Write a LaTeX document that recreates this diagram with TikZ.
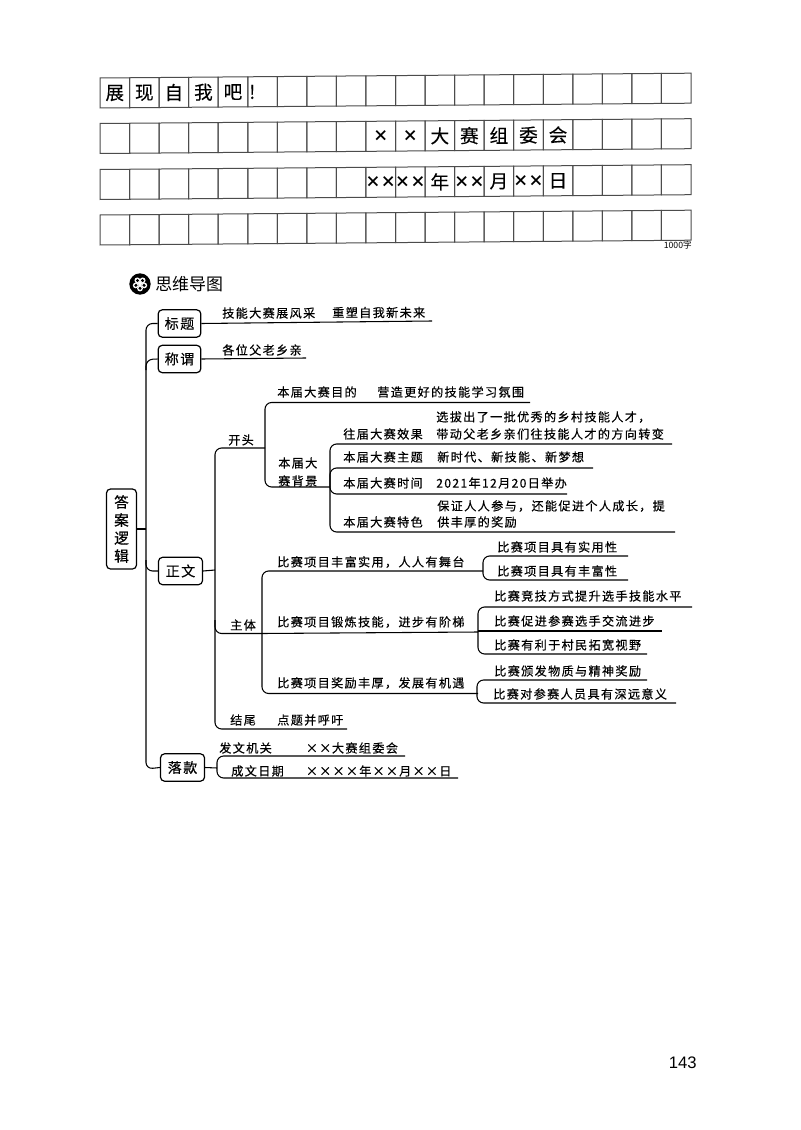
\documentclass[tikz,border=0pt]{standalone}
\usepackage{fontspec}
\setmainfont{Liberation Sans}
\newfontfamily\cjk[LetterSpace=11,FakeBold=0.35]{Noto Sans CJK SC}
\newfontfamily\cjkp[FakeBold=0.25]{Noto Sans CJK SC}
\newfontfamily\cjkh{Noto Sans CJK SC}
\newcommand\mul{\makebox[10pt]{×}}
\usetikzlibrary{shapes.geometric}
\tikzset{
  cell/.style={draw=black!70,line width=0.75pt},
  celltext/.style={inner sep=0pt,font=\cjkp\fontsize{14}{14}\selectfont},
  lab/.style={anchor=west,inner sep=0pt,font=\cjk\fontsize{9.1}{9.1}\selectfont},
  boxn/.style={draw,rounded corners=3pt,line width=0.9pt,inner sep=0pt,align=center,font=\cjk\fontsize{10.5}{10.5}\selectfont},
  link/.style={line width=0.8pt,rounded corners=5pt},
  tie/.style={line width=0.8pt},
}
\begin{document}
\begin{tikzpicture}[x=0.75pt,y=-0.75pt]
\useasboundingbox[fill=white] (0,0) rectangle (800,1130);
% writing grid
\foreach \t in {78,123.5,169.5,215}{
  \foreach \i in {0,...,19}{
    \pgfmathsetmacro{\xa}{100+29.55*\i}
    \pgfmathsetmacro{\xb}{\xa+29.55}
    \pgfmathsetmacro{\ya}{\t-0.24*\i}
    \pgfmathsetmacro{\yb}{\ya-0.24}
    \draw[cell] (\xa,\ya) -- (\xb,\yb) -- (\xb,\yb+30) -- (\xa,\ya+30) -- cycle;
  }
}
\foreach \n/\t/\i/\s in {
  a/78/0/展,b/78/1/现,c/78/2/自,d/78/3/我,e/78/4/吧,
  h/123.5/11/大,j/123.5/12/赛,k/123.5/13/组,l/123.5/14/委,m/123.5/15/会,
  o/169.5/11/年,p/169.5/13/月,q/169.5/15/日}{
  \node[celltext] (cell\n) at ({100+29.55*(\i+0.5)},{\t-0.24*\i+15}) {\s};
}
\node[celltext,anchor=west] (cellbang) at (249,92) {!};
\foreach \n/\i in {f/9,g/10}{
  \node[celltext,font=\cjkh\bfseries\fontsize{11.5}{11.5}\selectfont] (cell\n) at ({100+29.55*(\i+0.5)},{123.5-0.24*\i+15}) {×};
}
\foreach \n/\i in {r/9,s/10,u/12,v/14}{
  \node[celltext,font=\cjkh\bfseries\fontsize{11.5}{11.5}\selectfont] (cell\n) at ({100+29.55*(\i+0.5)},{169.5-0.24*\i+15}) {××};
}
\node[anchor=east,inner sep=0pt,font=\cjkh\fontsize{6.5}{6.5}\selectfont] (thousand) at (692,245.5) {1000字};
% heading
\node[circle,fill=black,minimum size=16pt,inner sep=0pt] (icon) at (140,284) {};
\foreach \a in {90,162,234,306,18}{
  \fill[white] (icon.center) ++(\a:4.5) circle[radius=2.9];
}
\foreach \a in {90,162,234,306,18}{
  \fill[black] (icon.center) ++(\a:4.3) circle[radius=1.7];
}
\node[star,star points=5,fill=white,minimum size=4pt,inner sep=0pt] (iconstar) at (140,284) {};
\node[anchor=west,inner sep=0pt,font=\cjkh\fontsize{12.7}{12.7}\selectfont] (head) at (155,284) {思维导图};
% boxes
\node[boxn,minimum width=22.5pt,minimum height=60pt,font=\cjk\fontsize{11}{13.5}\selectfont] (root) at (121.5,529) {答\\案\\逻\\辑};
\node[boxn,minimum width=32pt,minimum height=20.5pt] (b1) at (179.5,323.5) {标题};
\node[boxn,minimum width=32pt,minimum height=20.5pt] (b2) at (179.5,359) {称谓};
\node[boxn,minimum width=33pt,minimum height=20.5pt] (b3) at (180.5,571) {正文};
\node[boxn,minimum width=33pt,minimum height=20.5pt] (b4) at (182.5,767.5) {落款};
% junction and free-end coordinates
\coordinate (s1) at (432,321);
\coordinate (s2) at (306,358);
\coordinate (k1t) at (265,448);
\coordinate (k1) at (215,570);
\coordinate (k2) at (262,633.5);
\coordinate (k3) at (347,729);
\coordinate (m1e) at (530,402.5);
\coordinate (m2) at (330,487);
\coordinate (n1) at (672,444);
\coordinate (n2) at (593,468);
\coordinate (n3) at (567,494);
\coordinate (n4) at (675,532);
\coordinate (p1) at (483,571);
\coordinate (p2) at (478,632);
\coordinate (p3) at (478,693.5);
\coordinate (r1) at (217,768);
% trunk
\draw[link] (b1.west) -- (146,323.5) -- (146,769) -- (b4.west);
\draw[link] (b2.west) -- (146,359.5) -- (146,370);
\draw[tie] (root.east) -- (146,529);
\draw[link] (146,560) -- (146,571) -- (b3.west);
% upper
\draw[tie] (b1.east) -- (s1);
\draw[tie] (b2.east) -- (s2);
\draw[tie] (b3.east) -- (k1);
\draw[link] (k1t) -- (215,448) -- (215,729) -- (k3);
\draw[link] (215,620) -- (215,633.5) -- (k2);
\draw[link] (m1e) -- (265,402.5) -- (265,487) -- (m2);
\draw[link] (n1) -- (330,444) -- (330,532) -- (n4);
\draw[link] (n2) -- (330,468) -- (330,494) -- (n3);
% body
\draw[link] (p1) -- (262,571) -- (262,693.5) -- (p3);
\draw[tie] (k2) -- (p2);
\draw[link] (628,556) -- (483,556) -- (483,580) -- (628,580);
\draw[link] (692,607) -- (478,607) -- (478,654) -- (647,654);
\draw[tie] (478,631) -- (662,631);
\draw[link] (647,680) -- (477,680) -- (477,703) -- (676,703);
% signature
\draw[tie] (b4.east) -- (r1);
\draw[link] (405,756) -- (217,756) -- (217,778) -- (458,778);
% labels
\foreach \n/\x/\y/\s in {
 t1/222/313/技能大赛展风采,t2/332/312.5/重塑自我新未来,t3/222/350/各位父老乡亲,
 t4/228/440/开头,t5/277/392/本届大赛目的,t6/377/392/营造更好的技能学习氛围,
 t7/343/434/往届大赛效果,t8/436/417/选拔出了一批优秀的乡村技能人才，,t9/436/434/带动父老乡亲们往技能人才的方向转变,
 t10/343/457/本届大赛主题,t11/437/457/新时代、新技能、新梦想,
 t12/343/483/本届大赛时间,t13/436/483/2021年12月20日举办,
 t14/343/522/本届大赛特色,t15/437/506/保证人人参与，还能促进个人成长，提,t16/437/522/供丰厚的奖励,
 t17/278/463/本届大,t18/278/481/赛背景,
 t19/277/562/比赛项目丰富实用，人人有舞台,t20/277/622/比赛项目锻炼技能，进步有阶梯,t21/277/683/比赛项目奖励丰厚，发展有机遇,
 t22/230/625/主体,t23/230/720/结尾,t24/277/720/点题并呼吁,
 t25/497/547/比赛项目具有实用性,t26/497/571/比赛项目具有丰富性,
 t27/494/596/比赛竞技方式提升选手技能水平,t28/494/621/比赛促进参赛选手交流进步,t29/494/645/比赛有利于村民拓宽视野,
 t30/494/671/比赛颁发物质与精神奖励,t31/493/694/比赛对参赛人员具有深远意义,
 t32/219/748/发文机关,t33/305/748/\mul\mul 大赛组委会,t34/231/771/成文日期,
 t35/305/771/\mul\mul\mul\mul\makebox[10pt]{年}\mul\mul\makebox[10pt]{月}\mul\mul\makebox[10pt]{日}}{
  \node[lab] (\n) at (\x,\y) {\s};
}
\node[anchor=east,inner sep=0pt,font=\fontsize{12.5}{12.5}\selectfont] (pageno) at (697,1063) {143};
\end{tikzpicture}
\end{document}
